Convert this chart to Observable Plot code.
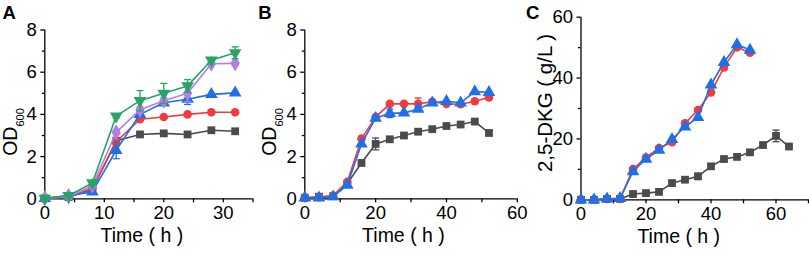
<!DOCTYPE html>
<html><head><meta charset="utf-8">
<script src="https://cdn.jsdelivr.net/npm/d3@7"></script>
<script src="https://cdn.jsdelivr.net/npm/@observablehq/plot@0.6"></script>
<style>
body{margin:0;background:#fff;}
#wrap{position:relative;width:809px;height:254px;overflow:hidden;}
.panel{position:absolute;top:0;}
</style></head><body><div id="wrap"></div>
<script>
// ---------- data ----------
const timeA = [0,4,8,12,16,20,24,28,32];
const aGray   = [0.02,0.08,0.45,2.75,3.05,3.10,3.05,3.25,3.20];
const aRed    = [0.02,0.10,0.50,2.70,3.77,3.88,4.00,4.10,4.10];
const aBlue   = [0.02,0.15,0.33,2.30,4.00,4.55,4.72,4.95,5.02];
const aPurple = [0.02,0.10,0.62,3.15,4.22,4.65,5.00,6.40,6.42];
const aGreen  = [0.02,0.15,0.75,3.92,4.65,5.00,5.35,6.57,6.92];
const aGrayErr   = [0,0,0,0.10,0,0,0,0,0];
const aRedErr    = [0,0,0,0.15,0.05,0,0,0,0];
const aBlueErr   = [0,0.05,0.05,0.40,0.10,0.10,0.25,0.05,0.05];
const aPurpleErr = [0,0,0.05,0.10,0.15,0.15,0.40,0.05,0.10];
const aGreenErr  = [0,0.05,0.10,0.10,0.48,0.47,0.30,0.05,0.28];

const timeB = [0,4,8,12,16,20,24,28,32,36,40,44,48,52];
const bGray = [0.05,0.10,0.12,0.72,1.70,2.60,2.82,3.00,3.18,3.30,3.45,3.52,3.66,3.12];
const bRed  = [0.05,0.08,0.15,0.80,2.85,3.87,4.50,4.50,4.50,4.60,4.50,4.48,4.62,4.80];
const bBlue = [0.05,0.05,0.10,0.65,2.60,3.82,4.05,4.07,4.25,4.55,4.62,4.55,5.08,5.05];
const bGrayErr = [0,0,0,0,0.12,0.28,0,0,0.08,0,0,0,0,0.12];
const bRedErr  = [0,0,0,0,0,0,0,0,0.28,0,0,0,0,0];
const bBlueErr = [0,0,0,0,0,0,0.20,0,0.08,0.10,0,0,0,0];

const timeC = [0,4,8,12,16,20,24,28,32,36,40,44,48,52];
const timeCGray = [0,4,8,12,16,20,24,28,32,36,40,44,48,52,56,60,64];
const cRed  = [0,0,0.3,0.3,10.1,13.9,17.0,18.9,25.1,29.5,35.3,43.5,50.1,48.3];
const cBlue = [0,0,0.3,0.5,9.3,13.4,16.3,19.9,24.0,27.1,37.8,45.2,51.0,49.2];
const cGray = [0,0,0.3,0.3,1.9,2.2,2.6,5.5,6.6,7.7,11.0,13.4,14.1,15.6,18.0,21.0,17.5];
const cRedErr  = [0,0,0,0,0,0,0,0,0,0,0,0,0,0];
const cBlueErr = [0,0,0,0,0,0,0,0,0,0,0,0,0,0];
const cGrayErr = [0,0,0,0,0,0,0,0,0,1.0,0,0,0,0,0,1.9,0];

const tickA_x = [0,10,20,30], minorA_x = [5,15,25,35];
const tickB_x = [0,20,40,60], minorB_x = [10,30,50];
const tickC_x = [0,20,40,60], minorC_x = [10,30,50,70];
const tickOD = [0,2,4,6,8], minorOD = [1,3,5,7];
const tickDKG = [0,20,40,60], minorDKG = [10,30,50];

// ---------- styles ----------
const FONT = "'Liberation Sans', Arial, Helvetica, sans-serif";
const GRAY="#4b4b4b", RED="#f23b3d", BLUE="#1f6fe6", PURPLE="#b37fe4", GREEN="#26a466";
const S3 = Math.sqrt(3);
const triDown = {draw(ctx,size){const y=-Math.sqrt(size/(S3*3));ctx.moveTo(0,-y*2);ctx.lineTo(S3*y,y);ctx.lineTo(-S3*y,y);ctx.closePath();}};
const cap = {draw(ctx){ctx.moveTo(-3.5,0);ctx.lineTo(3.5,0);}};

function rows(times, vals, errs){
  return times.map((t,i)=>({t, v:vals[i], e:errs[i]}));
}

function panel(cfg){
  const marks = [];
  marks.push(Plot.axisY({ticks:cfg.yMajor, tickSize:4, tickPadding:4, tickFormat:d=>String(d), label:null, fontSize:18.5, strokeWidth:1.3}));
  marks.push(Plot.axisY({ticks:cfg.yMinor, tickSize:2.5, tickFormat:()=>"", label:null, strokeWidth:1.3}));
  marks.push(Plot.axisX({ticks:cfg.xMajor, tickSize:4, tickPadding:3, tickFormat:d=>String(d), label:null, fontSize:18.5, strokeWidth:1.3}));
  marks.push(Plot.axisX({ticks:cfg.xMinor, tickSize:4, tickFormat:()=>"", label:null, strokeWidth:1.3}));
  marks.push(Plot.ruleX([cfg.xDomain[0]], {stroke:"#000", strokeWidth:1.3}));
  marks.push(Plot.ruleY([cfg.yDomain[0]], {stroke:"#000", strokeWidth:1.3}));
  for (const s of cfg.series){
    const d = rows(s.times, s.vals, s.errs);
    marks.push(Plot.line(d, {x:"t", y:"v", stroke:s.color, strokeWidth:1.6}));
    const de = d.filter(r=>r.e>0);
    marks.push(Plot.ruleX(de, {x:"t", y1:r=>r.v-r.e, y2:r=>r.v+r.e, stroke:s.color, strokeWidth:1.3}));
    marks.push(Plot.dot(de, {x:"t", y:r=>r.v+r.e, symbol:cap, stroke:s.color, strokeWidth:1.3, fill:"none"}));
    marks.push(Plot.dot(de, {x:"t", y:r=>r.v-r.e, symbol:cap, stroke:s.color, strokeWidth:1.3, fill:"none"}));
    marks.push(Plot.dot(d, {x:"t", y:"v", symbol:s.symbol, r:s.r, fill:s.color, stroke:"none"}));
  }
  marks.push(Plot.text(["Time ( h )"], {text:d=>d, frameAnchor:"bottom", dy:43.5, dx:cfg.xLabelDx, fontSize:19.5, fill:"#000"}));
  const svg = Plot.plot({
    width:cfg.width, height:254,
    marginLeft:cfg.marginLeft, marginRight:cfg.marginRight, marginTop:cfg.marginTop, marginBottom:cfg.marginBottom,
    x:{domain:cfg.xDomain}, y:{domain:cfg.yDomain},
    style:{fontFamily:FONT, fontSize:"18px", color:"#000", background:"transparent", overflow:"visible"},
    marks
  });
  const sel = d3.select(svg);
  // panel letter
  sel.append("text").attr("x", cfg.letterX).attr("y", 18.5).attr("font-family", FONT)
     .attr("text-anchor","start")
     .attr("font-weight","bold").attr("font-size",18.5).attr("fill","#000").text(cfg.letter);
  // y label
  const t = sel.append("text").attr("transform", `translate(${cfg.ylx},${cfg.yly}) rotate(-90)`)
     .attr("text-anchor","middle").attr("font-family",FONT).attr("font-size",cfg.ylSize).attr("fill","#000");
  if (cfg.ysub){
    t.append("tspan").text(cfg.ylabel);
    t.append("tspan").attr("font-size",11).attr("dy",7.5).text(cfg.ysub);
  } else {
    t.text(cfg.ylabel);
  }
  const div = document.createElement("div");
  div.className = "panel";
  div.style.left = cfg.left + "px";
  div.appendChild(svg);
  document.getElementById("wrap").appendChild(div);
}

panel({
  letter:"A", letterX:2.5, left:0, width:255, marginLeft:44.3, marginRight:2.5, marginTop:29.5, marginBottom:55.7,
  xDomain:[0,35], yDomain:[0,8], xMajor:tickA_x, xMinor:minorA_x, yMajor:tickOD, yMinor:minorOD,
  xLabelDx:-7, ylabel:"OD", ysub:"600", ylx:16.5, yly:132, ylSize:19.5,
  series:[
    {times:timeA, vals:aGray, errs:aGrayErr, color:GRAY, symbol:"square", r:4.4},
    {times:timeA, vals:aRed, errs:aRedErr, color:RED, symbol:"circle", r:4.3},
    {times:timeA, vals:aBlue, errs:aBlueErr, color:BLUE, symbol:"triangle", r:4.7},
    {times:timeA, vals:aPurple, errs:aPurpleErr, color:PURPLE, symbol:"diamond", r:4.9},
    {times:timeA, vals:aGreen, errs:aGreenErr, color:GREEN, symbol:triDown, r:4.7}
  ]
});
panel({
  letter:"B", letterX:3.3, left:255, width:270, marginLeft:49.3, marginRight:8.2, marginTop:29.5, marginBottom:55.7,
  xDomain:[0,60], yDomain:[0,8], xMajor:tickB_x, xMinor:minorB_x, yMajor:tickOD, yMinor:minorOD,
  xLabelDx:-7.6, ylabel:"OD", ysub:"600", ylx:20.5, yly:132, ylSize:19.5,
  series:[
    {times:timeB, vals:bGray, errs:bGrayErr, color:GRAY, symbol:"square", r:4.4},
    {times:timeB, vals:bRed, errs:bRedErr, color:RED, symbol:"circle", r:4.3},
    {times:timeB, vals:bBlue, errs:bBlueErr, color:BLUE, symbol:"triangle", r:4.7}
  ]
});
panel({
  letter:"C", letterX:1, left:525, width:284, marginLeft:55.5, marginRight:1, marginTop:16.7, marginBottom:54.7,
  xDomain:[0,70], yDomain:[0,60], xMajor:tickC_x, xMinor:minorC_x, yMajor:tickDKG, yMinor:minorDKG,
  xLabelDx:-16, ylabel:"2,5-DKG ( g/L )", ysub:null, ylx:27, yly:103, ylSize:20.5,
  series:[
    {times:timeCGray, vals:cGray, errs:cGrayErr, color:GRAY, symbol:"square", r:4.4},
    {times:timeC, vals:cRed, errs:cRedErr, color:RED, symbol:"circle", r:4.3},
    {times:timeC, vals:cBlue, errs:cBlueErr, color:BLUE, symbol:"triangle", r:4.7}
  ]
});
</script></body></html>
